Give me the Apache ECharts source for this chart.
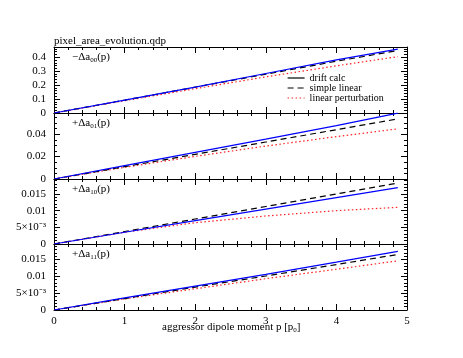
<!DOCTYPE html>
<html lang="en">
<head>
    <meta charset="UTF-8">
    <title>pixel_area_evolution.qdp</title>
    <style type="text/css">
        *{
            margin: 0;
            padding: 0;
        }
        #main{
            width: 463px;
            height: 358px;
            position: absolute;
            background: #fff;
        }
    </style>
</head>
<body>
    <div id="main"></div>
    <script src="https://cdn.jsdelivr.net/npm/echarts@6/dist/echarts.min.js"></script>
    <script type="text/javascript">
        var myChart = echarts.init(document.getElementById('main'));
        var FONT = 'Liberation Serif';

        // aggressor dipole moment p [p0]
        var pVals = [0, 1, 2, 3, 4, 4.87];

        // -Δa00(p)
        var a00Drift  = [0, 0.092, 0.186, 0.283, 0.381, 0.458];
        var a00Simple = [0, 0.092, 0.185, 0.278, 0.371, 0.448];
        var a00Pert   = [0, 0.088, 0.174, 0.259, 0.338, 0.404];
        // +Δa01(p)
        var a01Drift  = [0, 0.0119, 0.0238, 0.0356, 0.0477, 0.0588];
        var a01Simple = [0, 0.0110, 0.0220, 0.0330, 0.0440, 0.0536];
        var a01Pert   = [0, 0.0104, 0.0202, 0.0294, 0.0378, 0.0448];
        // +Δa10(p)
        var a10Drift  = [0, 0.00352, 0.00700, 0.01045, 0.01390, 0.01690];
        var a10Simple = [0, 0.00375, 0.00750, 0.01125, 0.01500, 0.01830];
        var a10Pert   = [0, 0.00350, 0.00640, 0.00840, 0.01000, 0.01100];
        // +Δa11(p)
        var a11Drift  = [0, 0.0036, 0.0071, 0.0106, 0.0142, 0.0174];
        var a11Simple = [0, 0.0034, 0.0068, 0.0101, 0.0135, 0.0165];
        var a11Pert   = [0, 0.0033, 0.0063, 0.0093, 0.0121, 0.0146];

        var panelNames = ['−Δa', '+Δa', '+Δa', '+Δa'];
        var panelSubs = ['00', '01', '10', '11'];
        var yMax = [0.473, 0.0589, 0.0195, 0.0196];
        var yStep = [0.1, 0.02, 0.005, 0.005];
        var yMinor = [5, 4, 5, 5];
        var seriesNames = ['drift calc', 'simple linear', 'linear perturbation'];

        var panels = [
            [a00Drift, a00Simple, a00Pert],
            [a01Drift, a01Simple, a01Pert],
            [a10Drift, a10Simple, a10Pert],
            [a11Drift, a11Simple, a11Pert]
        ];
        var gridTop = [47, 113, 179, 244];
        var gridH = [66, 66, 65, 66];

        function yLabel(v) {
            if (v === 0) return '0';
            if (Math.abs(v - 0.005) < 1e-9) return '5×10⁻³';
            return String(+v.toFixed(4));
        }

        var richText = {
            n: {fontFamily: FONT, fontSize: 11, fontWeight: 'normal', color: '#000', lineHeight: 14},
            s: {fontFamily: FONT, fontSize: 7, fontWeight: 'normal', color: '#000', lineHeight: 14, padding: [6, 0, 0, 0]}
        };

        var grid = [], xAxis = [], yAxis = [], series = [], titles = [];
        var tickStyle = {show: true, inside: true, length: 6, lineStyle: {color: '#000'}};

        for (var i = 0; i < 4; i++) {
            grid.push({left: 54, right: 56, top: gridTop[i], height: gridH[i]});
            // bottom & top x axes
            ['bottom', 'top'].forEach(function (pos) {
                xAxis.push({
                    type: 'value', gridIndex: i, position: pos, min: 0, max: 5, interval: 1,
                    axisLine: {show: true, onZero: false, lineStyle: {color: '#000', width: 1}},
                    axisTick: tickStyle,
                    minorTick: {show: true, splitNumber: 5, length: 3, lineStyle: {color: '#000'}},
                    splitLine: {show: false},
                    axisLabel: {show: i === 3 && pos === 'bottom', color: '#000', fontFamily: FONT, fontSize: 11, margin: 6}
                });
            });
            ['left', 'right'].forEach(function (pos) {
                yAxis.push({
                    type: 'value', gridIndex: i, position: pos, min: 0, max: yMax[i], interval: yStep[i],
                    axisLine: {show: true, onZero: false, lineStyle: {color: '#000', width: 1}},
                    axisTick: tickStyle,
                    minorTick: {show: true, splitNumber: yMinor[i], length: 3, lineStyle: {color: '#000'}},
                    splitLine: {show: false},
                    axisLabel: {show: pos === 'left', showMaxLabel: false, color: '#000', fontFamily: FONT, fontSize: 11, margin: 8, formatter: yLabel}
                });
            });
            var styles = [
                {color: '#0000ff', type: 'solid'},
                {color: '#000000', type: [6, 4]},
                {color: '#ff2020', type: [1.5, 2.5]}
            ];
            for (var s = 0; s < 3; s++) {
                var arr = panels[i][s];
                series.push({
                    name: seriesNames[s], type: 'line',
                    xAxisIndex: i * 2, yAxisIndex: i * 2,
                    showSymbol: false, symbol: 'none', silent: true, animation: false,
                    z: 3 - s,
                    lineStyle: {color: styles[s].color, type: styles[s].type, width: 1.2},
                    itemStyle: {color: styles[s].color},
                    data: pVals.map(function (p, k) { return [p, arr[k]]; })
                });
            }
            titles.push({
                text: '{n|' + panelNames[i] + '}{s|' + panelSubs[i] + '}{n|(p)}',
                left: 72, top: gridTop[i] + 3, padding: 0,
                textStyle: {fontWeight: 'normal', rich: richText}
            });
        }

        titles.push({
            text: 'pixel_area_evolution.qdp', left: 54, top: 36, padding: 0,
            textStyle: {fontFamily: FONT, fontSize: 11, fontWeight: 'normal', color: '#000'}
        });
        titles.push({
            text: '{n|aggressor dipole moment p [p}{s|0}{n|]}',
            left: 162, top: 320, padding: 0,
            textStyle: {fontWeight: 'normal', rich: richText}
        });

        var option = {
            animation: false,
            backgroundColor: '#fff',
            title: titles,
            legend: {
                orient: 'vertical', left: 287, top: 73, itemGap: 0,
                itemWidth: 17, itemHeight: 10, padding: 0,
                itemStyle: {opacity: 0},
                textStyle: {fontFamily: FONT, fontSize: 10, color: '#000'},
                data: [
                    {name: 'drift calc', itemStyle: {opacity: 0}, lineStyle: {color: '#000', type: 'solid', width: 1.2, opacity: 1}},
                    {name: 'simple linear', itemStyle: {opacity: 0}, lineStyle: {color: '#000', type: [6, 4], width: 1.2, opacity: 1}},
                    {name: 'linear perturbation', itemStyle: {opacity: 0}, lineStyle: {color: '#ff2020', type: [1.5, 2.5], width: 1.2, opacity: 1}}
                ]
            },
            grid: grid,
            xAxis: xAxis,
            yAxis: yAxis,
            series: series
        };

        myChart.setOption(option);
    </script>
</body>
</html>
